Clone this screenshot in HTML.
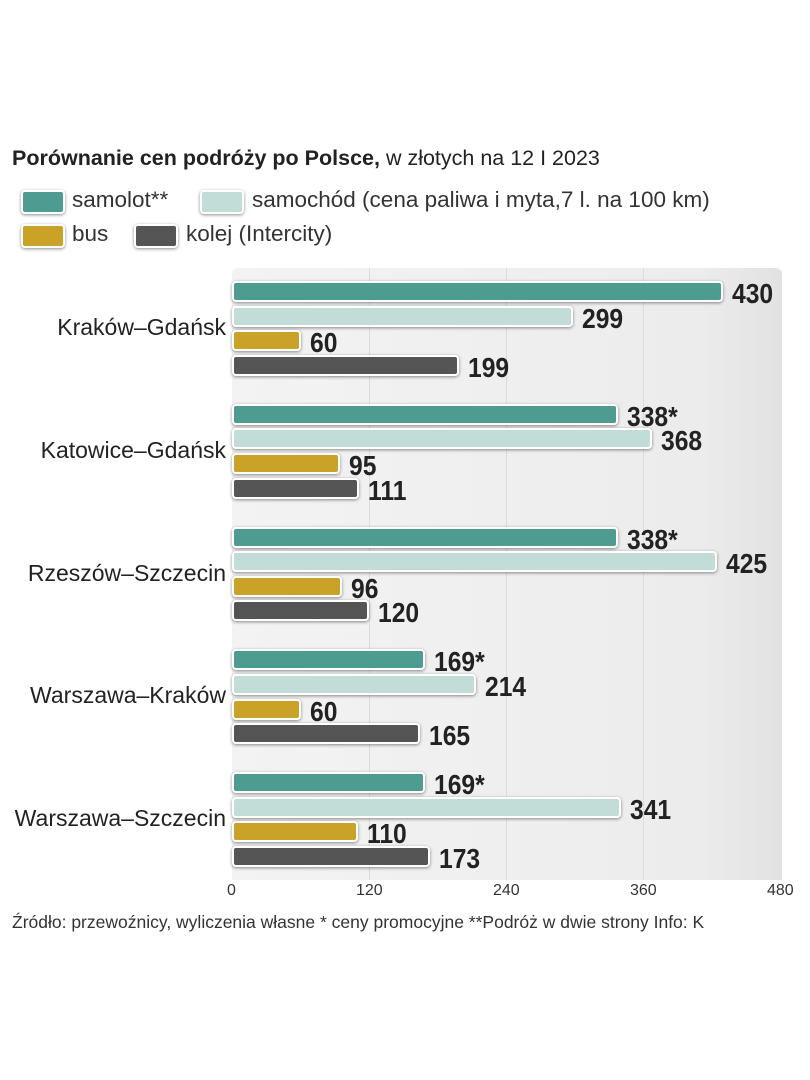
<!DOCTYPE html>
<html><head><meta charset="utf-8"><style>
body{margin:0;width:810px;height:1080px;background:#fff;position:relative;font-family:"Liberation Sans",sans-serif;overflow:hidden}
.a{position:absolute;white-space:nowrap}
.plot{position:absolute;left:232px;top:268px;width:550px;height:612px;background:linear-gradient(90deg,#f3f3f3,#ececec 85%,#e2e2e2);border-radius:6px 6px 0 0}
.g{position:absolute;top:268px;height:612px;width:1px;background:#dcdcdc}
.bar{position:absolute;height:17px;border:2px solid #fff;border-radius:4px;box-shadow:0 1px 3px rgba(0,0,0,.45)}
.v{position:absolute;font-weight:bold;font-size:28px;color:#222;line-height:25px;transform:scaleX(.88);transform-origin:left center;white-space:nowrap}
.c{position:absolute;right:584px;font-size:23px;color:#222;text-align:right;white-space:nowrap}
.lg{position:absolute;width:40px;height:20px;border:2px solid #fff;border-radius:4px;box-shadow:0 1px 3px rgba(0,0,0,.45)}
.t{position:absolute;font-size:16px;color:#333;top:882px}
</style></head><body>
<div class="a" style="left:12px;top:146px;font-size:21.5px;color:#222"><b>Porównanie cen podróży po Polsce,</b> w złotych na 12 I 2023</div>
<div class="lg" style="left:21px;top:190px;background:#4e9c91"></div>
<div class="a" style="left:72px;top:187px;font-size:22.5px;color:#333">samolot**</div>
<div class="lg" style="left:200px;top:190px;background:#c2dcd8"></div>
<div class="a" style="left:252px;top:187px;font-size:22.5px;color:#333">samochód (cena paliwa i myta,7 l. na 100 km)</div>
<div class="lg" style="left:21px;top:224px;background:#c9a227"></div>
<div class="a" style="left:72px;top:221px;font-size:22.5px;color:#333">bus</div>
<div class="lg" style="left:134px;top:224px;background:#555"></div>
<div class="a" style="left:186px;top:221px;font-size:22.5px;color:#333">kolej (Intercity)</div>
<div class="plot"></div>
<div class="g" style="left:369px"></div><div class="g" style="left:506px"></div><div class="g" style="left:643px"></div>
<div id="bars"></div>
<div class="t" style="left:227px">0</div>
<div class="t" style="left:356px">120</div>
<div class="t" style="left:493px">240</div>
<div class="t" style="left:630px">360</div>
<div class="t" style="left:767px">480</div>
<div class="a" style="left:12px;top:912px;font-size:17.5px;color:#333">Źródło: przewoźnicy, wyliczenia własne * ceny promocyjne **Podróż w dwie strony Info: K</div>
<script>
var d=[["Kraków–Gdańsk",["430","299","60","199"]],["Katowice–Gdańsk",["338*","368","95","111"]],["Rzeszów–Szczecin",["338*","425","96","120"]],["Warszawa–Kraków",["169*","214","60","165"]],["Warszawa–Szczecin",["169*","341","110","173"]]];
var col=["#4e9c91","#c2dcd8","#c9a227","#555"],h="",s=548/480;
d.forEach(function(g,i){var y0=281+i*122.8;
h+='<div class="c" style="top:'+(y0+33)+'px">'+g[0]+'</div>';
g[1].forEach(function(v,j){var n=parseFloat(v),w=n*s,y=y0+j*24.6;
h+='<div class="bar" style="left:232px;top:'+y+'px;width:'+(w-4)+'px;background:'+col[j]+'"></div>';
h+='<div class="v" style="left:'+(232+w+9)+'px;top:'+(y)+'px">'+v+'</div>';});});
document.getElementById("bars").innerHTML=h;
</script>
</body></html>
